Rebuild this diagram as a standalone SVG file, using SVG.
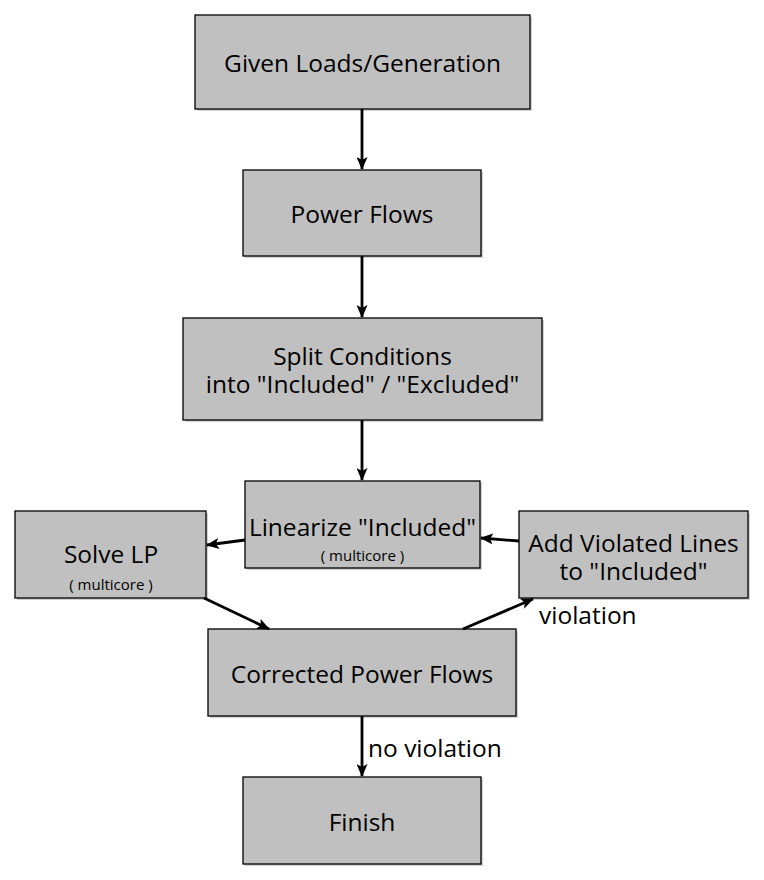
<svg xmlns="http://www.w3.org/2000/svg" width="764" height="880" viewBox="0 0 764 880">
<style>
.box{fill:#c0c0c0;stroke:#000;stroke-width:1.3}
.sh{fill:#000;opacity:0.18}
.t{font-family:"Open Sans","Noto Sans",sans-serif;font-size:24.5px;fill:#000;text-anchor:middle}
.s{font-family:"Open Sans","Noto Sans",sans-serif;font-size:15px;fill:#000;text-anchor:middle}
.l{font-family:"Open Sans","Noto Sans",sans-serif;font-size:24.5px;fill:#000}
.c{stroke:#000;stroke-width:2.8;fill:none;marker-end:url(#ah)}
</style>
<defs>
<marker id="ah" viewBox="0 0 13 11" refX="12" refY="5.5" markerWidth="13" markerHeight="11" markerUnits="userSpaceOnUse" orient="auto">
<path d="M0,0 L13,5.5 L0,11 L3,5.5 Z" fill="#000"/>
</marker>
</defs>
<rect width="764" height="880" fill="#fff"/>
<g id="n1"><rect class="sh" x="197" y="17" width="335" height="94"/><rect class="box" x="195" y="15" width="335" height="94"/><text class="t" x="362.5" y="72">Given Loads/Generation</text></g>
<g id="n2"><rect class="sh" x="245" y="172" width="238" height="86"/><rect class="box" x="243" y="170" width="238" height="86"/><text class="t" x="362" y="223">Power Flows</text></g>
<g id="n3"><rect class="sh" x="185" y="320" width="359" height="102"/><rect class="box" x="183" y="318" width="359" height="102"/><text class="t" x="362.5" y="365">Split Conditions</text><text class="t" x="362.5" y="393">into "Included" / "Excluded"</text></g>
<g id="n4"><rect class="sh" x="247" y="483" width="235" height="87"/><rect class="box" x="245" y="481" width="235" height="87"/><text class="t" x="362.5" y="536">Linearize "Included"</text><text class="s" x="362.5" y="561">( multicore )</text></g>
<g id="n5"><rect class="sh" x="17" y="513" width="191" height="87"/><rect class="box" x="15" y="511" width="191" height="87"/><text class="t" x="111" y="563">Solve LP</text><text class="s" x="111" y="590">( multicore )</text></g>
<g id="n6"><rect class="sh" x="521" y="513" width="229" height="87"/><rect class="box" x="519" y="511" width="229" height="87"/><text class="t" x="633.5" y="552">Add Violated Lines</text><text class="t" x="633.5" y="580">to "Included"</text></g>
<g id="n7"><rect class="sh" x="210" y="631" width="308" height="87"/><rect class="box" x="208" y="629" width="308" height="87"/><text class="t" x="362" y="683">Corrected Power Flows</text></g>
<g id="n8"><rect class="sh" x="245" y="779" width="238" height="87"/><rect class="box" x="243" y="777" width="238" height="87"/><text class="t" x="362" y="831">Finish</text></g>
<g id="connectors">
<line class="c" x1="362" y1="109" x2="362" y2="169"/>
<line class="c" x1="362" y1="256" x2="362" y2="317"/>
<line class="c" x1="362" y1="420" x2="362" y2="480"/>
<line class="c" x1="245" y1="540" x2="207" y2="545"/>
<line class="c" x1="519" y1="541" x2="481" y2="538"/>
<line class="c" x1="204" y1="598" x2="269" y2="629"/>
<line class="c" x1="463" y1="629" x2="533" y2="599"/>
<line class="c" x1="362" y1="716" x2="362" y2="776"/>
<text class="l" x="539" y="624">violation</text>
<text class="l" x="368" y="757">no violation</text>
</g>
</svg>
